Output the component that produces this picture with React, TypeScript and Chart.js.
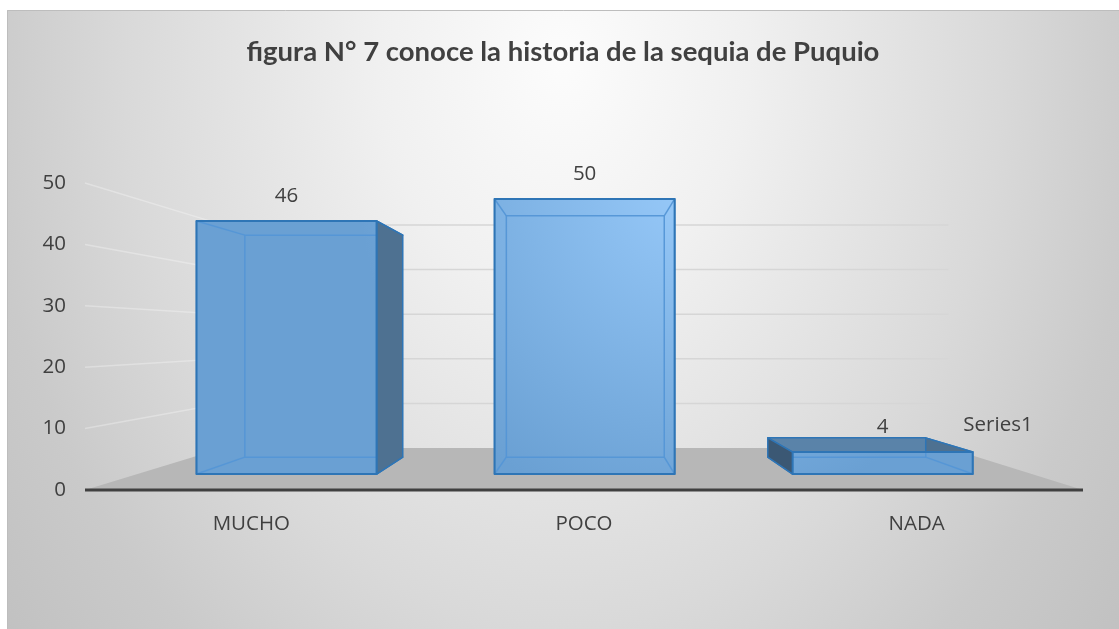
import React, { useEffect, useRef } from 'react';
import { Chart, registerables } from 'chart.js';

Chart.register(...registerables);

// ---- data ----
const categories = ['MUCHO', 'POCO', 'NADA'];
const values = [46, 50, 4];
const yTickValues = [0, 10, 20, 30, 40, 50];
const seriesName = 'Series1';
const titleText = 'figura N° 7 conoce la historia de la sequia de Puquio';

// ---- styling ----
const W = 1112;
const H = 619;
const LABEL_FONT = "'Open Sans', sans-serif";
const TITLE_FONT = "Lato, 'Open Sans', sans-serif";
const TITLE_SIZE = 27.5;
const LABEL_SIZE = 20.5;
const TEXT = '#404040';
const DEPTH_WALL = 0.273;
const DEPTH_FRONT = 0.104;
const DEPTH_BACK = 0.214;

type Pt = [number, number];

function vanish(ca: any) {
  return { x: ca.left + 0.506 * (ca.right - ca.left), y: (ca.top + ca.bottom) / 2 };
}
function proj(p: { x: number; y: number }, x: number, y: number, t: number): Pt {
  return [x + t * (p.x - x), y + t * (p.y - y)];
}
function poly(ctx: CanvasRenderingContext2D, pts: Pt[]) {
  ctx.beginPath();
  ctx.moveTo(pts[0][0], pts[0][1]);
  for (let i = 1; i < pts.length; i++) ctx.lineTo(pts[i][0], pts[i][1]);
  ctx.closePath();
}

const perspectivePlugin = {
  id: 'perspective3d',
  beforeDraw(chart: any) {
    const ctx: CanvasRenderingContext2D = chart.ctx;
    ctx.save();
    const cx = W * 0.5;
    const cy = 50;
    const ax = 620;
    const ay = 800;
    ctx.translate(cx, cy);
    ctx.scale(ax, ay);
    const g = ctx.createRadialGradient(0, 0, 0, 0, 0, 1.2);
    g.addColorStop(0, '#fcfcfc');
    g.addColorStop(0.25, '#f0f0f0');
    g.addColorStop(0.59, '#d9d9d9');
    g.addColorStop(0.78, '#cacaca');
    g.addColorStop(1, '#bfbfbf');
    ctx.fillStyle = g;
    ctx.fillRect(-cx / ax, -cy / ay, W / ax, H / ay);
    ctx.restore();
    ctx.save();
    ctx.strokeStyle = '#bdbdbd';
    ctx.lineWidth = 1;
    ctx.beginPath();
    ctx.moveTo(0.5, H);
    ctx.lineTo(0.5, 0.5);
    ctx.lineTo(W, 0.5);
    ctx.stroke();
    ctx.restore();
  },
  beforeDatasetsDraw(chart: any) {
    const ctx: CanvasRenderingContext2D = chart.ctx;
    const ca = chart.chartArea;
    const ys = chart.scales.y;
    const p = vanish(ca);
    const yb = ys.getPixelForValue(0);
    ctx.save();
    // floor
    const bl = proj(p, ca.left, yb, DEPTH_WALL);
    const br = proj(p, ca.right, yb, DEPTH_WALL);
    poly(ctx, [[ca.left, yb], [ca.right, yb], br, bl]);
    ctx.fillStyle = '#b7b7b7';
    ctx.fill();
    // gridlines (side wall + back wall)
    ys.ticks.forEach((t: any) => {
      if (t.value === 0) return;
      const y = ys.getPixelForValue(t.value);
      const a = proj(p, ca.left, y, DEPTH_WALL);
      const b = proj(p, ca.right, y, DEPTH_WALL);
      ctx.beginPath();
      ctx.moveTo(ca.left, y);
      ctx.lineTo(a[0], a[1]);
      ctx.strokeStyle = 'rgba(255,255,255,0.3)';
      ctx.lineWidth = 1.5;
      ctx.stroke();
      ctx.beginPath();
      ctx.moveTo(a[0], a[1]);
      ctx.lineTo(b[0], b[1]);
      ctx.strokeStyle = '#d6d6d6';
      ctx.lineWidth = 1.5;
      ctx.stroke();
    });
    // axis line
    ctx.beginPath();
    ctx.moveTo(ca.left, yb);
    ctx.lineTo(ca.right, yb);
    ctx.strokeStyle = '#404040';
    ctx.lineWidth = 3;
    ctx.stroke();
    ctx.restore();
  },
  afterDatasetsDraw(chart: any) {
    const ctx: CanvasRenderingContext2D = chart.ctx;
    const ca = chart.chartArea;
    const ys = chart.scales.y;
    const p = vanish(ca);
    const meta = chart.getDatasetMeta(0);
    const gx = ca.left + 0.606 * (ca.right - ca.left);
    const gy = ca.top + 0.02 * (ca.bottom - ca.top);
    const grad = ctx.createRadialGradient(gx, gy, 0, gx, gy, 330);
    grad.addColorStop(0, '#97c9f9');
    grad.addColorStop(1, '#6aa0d3');
    ctx.save();
    meta.data.forEach((el: any, i: number) => {
      const { x, y, base, width } = el.getProps(['x', 'y', 'base', 'width'], true);
      const x1 = x - width / 2;
      const x2 = x + width / 2;
      const F: Pt[] = [proj(p, x1, y, DEPTH_FRONT), proj(p, x2, y, DEPTH_FRONT), proj(p, x2, base, DEPTH_FRONT), proj(p, x1, base, DEPTH_FRONT)];
      const B: Pt[] = [proj(p, x1, y, DEPTH_BACK), proj(p, x2, y, DEPTH_BACK), proj(p, x2, base, DEPTH_BACK), proj(p, x1, base, DEPTH_BACK)];
      const faces: [Pt[], string][] = [
        [[F[3], F[2], B[2], B[3]], '#6293c4'],
        [[F[0], F[1], B[1], B[0]], '#5a83a9'],
        [[F[1], F[2], B[2], B[1]], '#4e7191'],
        [[F[0], F[3], B[3], B[0]], '#3b5874'],
      ];
      faces.forEach(([pts, col]) => {
        poly(ctx, pts);
        ctx.fillStyle = col;
        ctx.fill();
        ctx.strokeStyle = '#2e75b6';
        ctx.lineWidth = 1.5;
        ctx.lineJoin = 'round';
        ctx.stroke();
      });
      // front face
      poly(ctx, F);
      ctx.fillStyle = grad;
      ctx.fill();
      // inner (see-through) edges
      ctx.save();
      poly(ctx, F);
      ctx.clip();
      ctx.strokeStyle = 'rgba(84,150,214,0.95)';
      ctx.lineWidth = 1.5;
      poly(ctx, B);
      ctx.stroke();
      for (let k = 0; k < 4; k++) {
        ctx.beginPath();
        ctx.moveTo(F[k][0], F[k][1]);
        ctx.lineTo(B[k][0], B[k][1]);
        ctx.stroke();
      }
      ctx.restore();
      poly(ctx, F);
      ctx.strokeStyle = '#2e75b6';
      ctx.lineWidth = 2;
      ctx.stroke();
      // value label
      ctx.fillStyle = TEXT;
      ctx.font = `${LABEL_SIZE}px ${LABEL_FONT}`;
      ctx.textAlign = 'center';
      ctx.textBaseline = 'middle';
      ctx.fillText(String(values[i]), (F[0][0] + F[1][0]) / 2, F[0][1] - 25);
    });
    // series (depth axis) label
    const yb = ys.getPixelForValue(0);
    ctx.fillStyle = TEXT;
    ctx.font = `${LABEL_SIZE}px ${LABEL_FONT}`;
    ctx.textAlign = 'center';
    ctx.textBaseline = 'middle';
    ctx.fillText(seriesName, ca.right - 85, yb - 65);
    ctx.restore();
  },
};

export default function App() {
  const ref = useRef<HTMLCanvasElement | null>(null);
  useEffect(() => {
    if (!ref.current) return;
    const padTop = 42 - 0.6 * TITLE_SIZE;
    const padBottom = 173 - padTop - 1.2 * TITLE_SIZE;
    const chart = new Chart(ref.current, {
      type: 'bar',
      data: {
        labels: categories,
        datasets: [
          {
            label: seriesName,
            data: values,
            backgroundColor: 'rgba(0,0,0,0)',
            borderWidth: 0,
            barPercentage: 0.604,
            categoryPercentage: 1,
            yAxisID: 'y',
          },
        ],
      },
      options: {
        responsive: false,
        animation: false,
        devicePixelRatio: 1,
        layout: { padding: { top: 0, left: 0, right: 0, bottom: 0 } },
        plugins: {
          legend: { display: false },
          tooltip: { enabled: false },
          title: {
            display: true,
            text: titleText,
            color: TEXT,
            font: { family: TITLE_FONT, size: TITLE_SIZE, weight: 'bold', lineHeight: 1.2 },
            padding: { top: padTop, bottom: padBottom },
          },
        },
        scales: {
          x: {
            type: 'category',
            grid: { display: false, drawTicks: false },
            border: { display: false },
            ticks: { padding: 22, color: TEXT, font: { family: LABEL_FONT, size: LABEL_SIZE } },
            afterFit: (s: any) => {
              s.height = 139;
            },
          },
          y: {
            min: yTickValues[0],
            max: yTickValues[yTickValues.length - 1],
            afterBuildTicks: (s: any) => {
              s.ticks = yTickValues.map((v) => ({ value: v }));
            },
            grid: { display: false, drawTicks: false },
            border: { display: false },
            ticks: { padding: 19, color: TEXT, font: { family: LABEL_FONT, size: LABEL_SIZE } },
            afterFit: (s: any) => {
              s.width = 78;
            },
          },
          yRight: {
            type: 'linear',
            position: 'right',
            min: yTickValues[0],
            max: yTickValues[yTickValues.length - 1],
            grid: { display: false, drawTicks: false },
            border: { display: false },
            ticks: { display: false },
            afterFit: (s: any) => {
              s.width = 36;
            },
          },
        },
      } as any,
      plugins: [perspectivePlugin],
    });
    return () => chart.destroy();
  }, []);
  return (
    <canvas
      ref={ref}
      width={W}
      height={H}
      style={{ position: 'absolute', left: 7, top: 10, width: W, height: H, display: 'block' }}
    />
  );
}
